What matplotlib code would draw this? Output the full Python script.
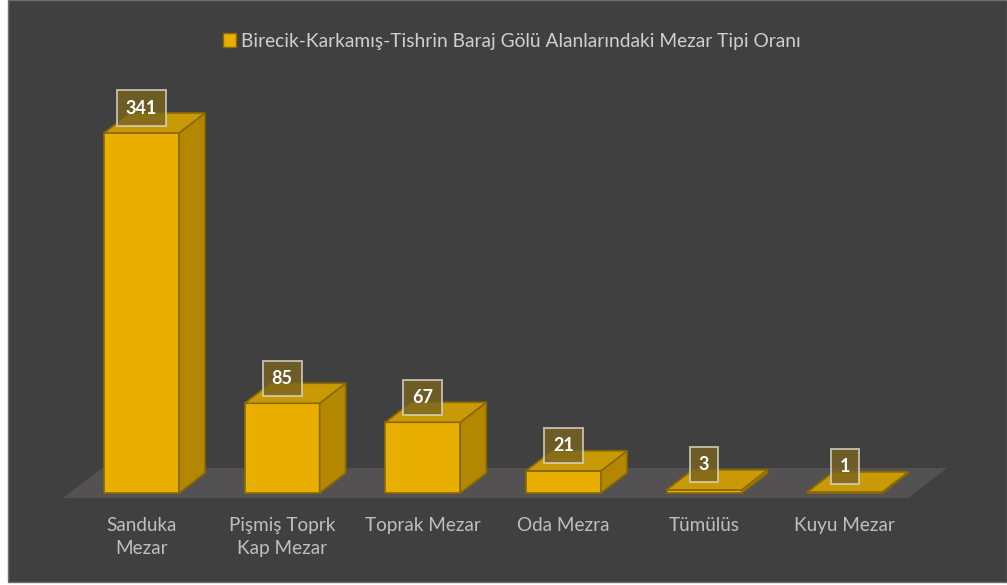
import matplotlib
matplotlib.use("Agg")
import matplotlib.pyplot as plt
from matplotlib.patches import Polygon, Rectangle, Patch

categories = ["Sanduka\nMezar", "Pişmiş Toprk\nKap Mezar", "Toprak Mezar", "Oda Mezra", "Tümülüs", "Kuyu Mezar"]
values = [341, 85, 67, 21, 3, 1]
series_name = "Birecik-Karkamış-Tishrin Baraj Gölü Alanlarındaki Mezar Tipi Oranı"

FRONT = "#E8AF00"
SIDE = "#B38700"
TOP = "#C99A05"
EDGE = "#8A6A00"
BG = "#404040"
FLOOR = "#535152"
FONT = ["Lato", "DejaVu Sans"]

W, H = 1007, 585
fig = plt.figure(figsize=(W / 100, H / 100), dpi=100)
fig.patch.set_facecolor("white")

ax = fig.add_axes([0, 0, 1, 1])
ax.set_facecolor("none")
ax.axis("off")
ax.add_patch(Rectangle((8 / W, 3 / H), (W - 8) / W, (H - 3) / H, transform=fig.transFigure,
                       facecolor=BG, edgecolor="#6e6e6e", lw=1.0, zorder=0))

# pixel geometry -> data units
x0_px, step_px = 141.5, 140.67
y0_px, px_per_unit = 493.0, 1.0557
ax.set_xlim(-x0_px / step_px, (W - x0_px) / step_px)
ax.set_ylim(-(H - y0_px) / px_per_unit, y0_px / px_per_unit)

bw = 75 / step_px
DX = 26 / step_px
DY = 20 / px_per_unit

# floor
fl_front = -5 / px_per_unit
fl_back = 25 / px_per_unit
fl_left = (63 - x0_px) / step_px
fl_right = (908 - x0_px) / step_px
fdx = 39 / step_px
ax.add_patch(Polygon([(fl_left, fl_front), (fl_right, fl_front), (fl_right + fdx, fl_back),
                      (fl_left + fdx, fl_back)], closed=True, facecolor=FLOOR, edgecolor="none", zorder=1))

xs = list(range(len(categories)))
ax.bar(xs, values, width=bw, color=FRONT, edgecolor=EDGE, linewidth=1.2, zorder=3)
for x, v in zip(xs, values):
    l, r = x - bw / 2, x + bw / 2
    ax.add_patch(Polygon([(r, 0), (r + DX, DY), (r + DX, v + DY), (r, v)], closed=True,
                         facecolor=SIDE, edgecolor=EDGE, lw=1.2, zorder=3))
    ax.add_patch(Polygon([(l, v), (r, v), (r + DX, v + DY), (l + DX, v + DY)], closed=True,
                         facecolor=TOP, edgecolor=EDGE, lw=1.2, zorder=3))
    ax.annotate(str(v), xy=(x, v), xytext=(0, 25), textcoords="offset pixels",
                ha="center", va="center", fontsize=13, fontweight="bold", color="white",
                family=FONT, zorder=5,
                bbox=dict(boxstyle="square,pad=0.5", fc="#7a6420", ec="#d6d3c4", lw=1.4, alpha=0.8))

for x, c in zip(xs, categories):
    ax.text(x, (y0_px - 517) / px_per_unit, c, ha="center", va="top", fontsize=13.6,
            color="#bfbfbf", family=FONT, linespacing=1.45)

leg = ax.legend(handles=[Patch(facecolor=FRONT, edgecolor=EDGE, label=series_name)],
                loc="center", bbox_to_anchor=(0.508, 1 - 41 / H), frameon=False,
                handlelength=0.7, handleheight=0.7, handletextpad=0.25,
                prop={"family": FONT, "size": 13.8})
for t in leg.get_texts():
    t.set_color("#d0d0d0")

fig.savefig("out.png", dpi=100, facecolor=fig.get_facecolor())
